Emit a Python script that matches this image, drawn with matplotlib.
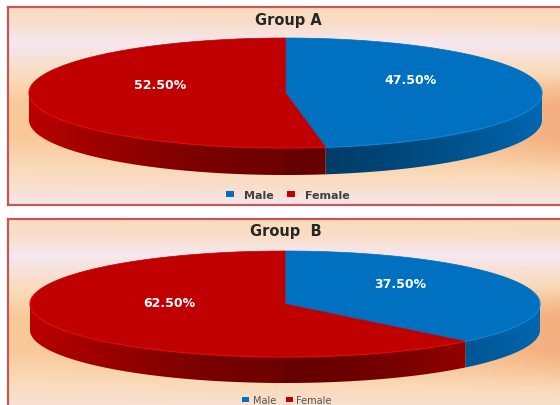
import numpy as np
import matplotlib
matplotlib.use("Agg")
import matplotlib.pyplot as plt
from matplotlib.patches import Polygon, Patch
from matplotlib.colors import to_rgb

plt.rcParams['font.family'] = ['DejaVu Sans']

categories = ['Male', 'Female']
titles = ['Group A', 'Group  B']
shares_a = [47.5, 52.5]
shares_b = [37.5, 62.5]
colors = ['#0070c0', '#c00000']

W, H = 560, 406
fig = plt.figure(figsize=(W / 100, H / 100), dpi=100)
fig.patch.set_facecolor('white')

pink = np.array(to_rgb('#f6e8f0'))
peach = np.array(to_rgb('#fad9b6'))
orange = np.array(to_rgb('#f7bf88'))
salmon = np.array(to_rgb('#f3a67c'))


def background(ax, x0, x1, y0, y1):
    # sunset style fill: pale at top and bottom, orange band through the middle
    ny, nx = 200, 280
    fy = np.linspace(0, 1, ny)[:, None]
    fx = np.linspace(0, 1, nx)[None, :]
    s = np.interp(fy, [0, 0.08, 0.18, 0.3, 0.5, 0.65, 0.8, 0.92, 1.0],
                  [0.45, 0.35, 0.0, 0.35, 0.9, 0.9, 0.55, 0.3, 0.05])
    s = np.clip(s * (0.9 + 0.2 * fx), 0, 1)[..., None]
    lo = np.clip(s * 2, 0, 1)
    hi = np.clip(s * 2 - 1, 0, 1)
    img = pink * (1 - lo) + peach * lo
    img = img * (1 - hi) + orange * hi
    # warmer tint towards the right hand edge
    k = (fx ** 5 * 0.7)[..., None] * hi
    img = img * (1 - k) + salmon * k
    ax.imshow(img, extent=(x0, x1, y1, y0), origin='upper', aspect='auto',
              interpolation='bilinear', zorder=0)


def pie3d(ax, shares, cx, cy, rx, ry, depth):
    fr = np.array(shares) / sum(shares)
    ends = 90 - 360 * np.cumsum(fr)
    starts = np.r_[90, ends[:-1]]

    def pt(t, dy=0.0):
        r = np.radians(t)
        return cx + rx * np.cos(r), cy - ry * np.sin(r) + dy

    # shading across the side wall: brighter at the left and right ends
    xs_img = np.linspace(cx - rx, cx + rx, 400)
    u = (xs_img - cx) / rx
    shade = 0.52 + 0.4 * np.abs(u) ** 1.5 + 0.05 * (u < 0)

    for a, b, c in zip(starts, ends, colors):
        ts = np.linspace(a, b, 400)
        ts = ts[np.sin(np.radians(ts)) <= 0]
        if len(ts) < 2:
            continue
        tx, ty = pt(ts)
        verts = np.r_[np.column_stack([tx, ty]), np.column_stack([tx, ty + depth])[::-1]]
        wall = Polygon(verts, closed=True, facecolor='none', edgecolor='none')
        ax.add_patch(wall)
        base = np.array(to_rgb(c))
        img = np.clip(base[None, None, :] * shade[None, :, None], 0, 1)
        img = np.repeat(img, 2, axis=0)
        im = ax.imshow(img, extent=(cx - rx, cx + rx, cy + ry + depth + 2, cy - 2),
                       origin='upper', aspect='auto', interpolation='bilinear', zorder=2)
        im.set_clip_path(wall)

    # top surface wedges
    for a, b, c in zip(starts, ends, colors):
        ts = np.linspace(a, b, 200)
        xs, ys = pt(ts)
        verts = np.column_stack([np.r_[cx, xs], np.r_[cy, ys]])
        ax.add_patch(Polygon(verts, closed=True, facecolor=c, edgecolor=c,
                             lw=0.5, zorder=3))

    # lighter rim along the front edge of the top
    for a, b, c in zip(starts, ends, colors):
        ts = np.linspace(a, b, 200)
        ts = ts[np.sin(np.radians(ts)) < 0.2]
        if len(ts) < 2:
            continue
        xs, ys = pt(ts)
        rim = np.clip(np.array(to_rgb(c)) * 1.2 + 0.05, 0, 1)
        ax.plot(xs, ys, color=rim, lw=1.0, alpha=0.5, zorder=4)

    # percentage labels
    for a, b, v in zip(starts, ends, shares):
        tm = 0.5 * (a + b)
        x, y = cx + 0.49 * rx * np.cos(np.radians(tm)), cy - 0.49 * ry * np.sin(np.radians(tm))
        ax.text(x, y - 11, f'{v:.2f}%', color='white', fontsize=9,
                fontweight='bold', ha='center', va='center', zorder=5)


border = '#c4575a'

# Group A panel
axA = fig.add_axes([8 / W, 1 - 206 / H, 552 / W, 198 / H])
background(axA, 8, 560, 8, 206)
pie3d(axA, shares_a, 285.5, 94, 256.5, 55, 27)
axA.set_xlim(8, 560)
axA.set_ylim(206, 8)
axA.set_xticks([])
axA.set_yticks([])
for side in ['left', 'top', 'bottom']:
    axA.spines[side].set_color(border)
    axA.spines[side].set_linewidth(1.6)
axA.spines['right'].set_visible(False)
axA.text(288, 20, titles[0], fontsize=10.5, fontweight='bold', color='#262626',
         ha='center', va='center', zorder=5)
hA = [Patch(facecolor=c, label=l) for c, l in zip(colors, categories)]
legA = axA.legend(handles=hA, ncol=2, loc='center', bbox_to_anchor=(288, 196),
                  bbox_transform=axA.transData, frameon=False,
                  handlelength=0.75, handleheight=0.45, handletextpad=0.9,
                  columnspacing=1.2, prop={'size': 8, 'weight': 'bold'})
for t in legA.get_texts():
    t.set_color('#404040')

# Group B panel
axB = fig.add_axes([8 / W, 0, 552 / W, 186 / H])
background(axB, 8, 560, 220, 420)
pie3d(axB, shares_b, 285, 305, 255, 53, 26)
axB.set_xlim(8, 560)
axB.set_ylim(406, 220)
axB.set_xticks([])
axB.set_yticks([])
for side in ['left', 'top']:
    axB.spines[side].set_color(border)
    axB.spines[side].set_linewidth(1.6)
axB.spines['right'].set_visible(False)
axB.spines['bottom'].set_visible(False)
axB.text(286, 232, titles[1], fontsize=10.5, fontweight='bold', color='#262626',
         ha='center', va='center', zorder=5)
hB = [Patch(facecolor=c, label=l) for c, l in zip(colors, categories)]
legB = axB.legend(handles=hB, ncol=2, loc='center', bbox_to_anchor=(287, 401),
                  bbox_transform=axB.transData, frameon=False,
                  handlelength=0.7, handleheight=0.35, handletextpad=0.4,
                  columnspacing=1.0, prop={'size': 7})
for t in legB.get_texts():
    t.set_color('#555555')

fig.savefig('out.png', dpi=100)
